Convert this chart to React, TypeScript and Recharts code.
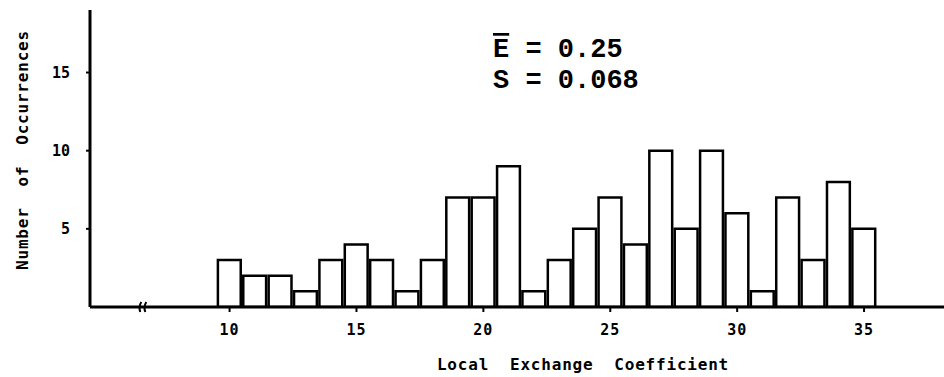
import { BarChart, Bar, XAxis, YAxis, ReferenceDot, Customized } from 'recharts';

// histogram bins (coefficient x 100) and counts per bin
const coefficient = [
  10, 11, 12, 13, 14, 15, 16, 17, 18, 19, 20, 21, 22,
  23, 24, 25, 26, 27, 28, 29, 30, 31, 32, 33, 34, 35,
];
const occurrences = [
  3, 2, 2, 1, 3, 4, 3, 1, 3, 7, 7, 9, 1,
  3, 5, 7, 4, 10, 5, 10, 6, 1, 7, 3, 8, 5,
];
const xTicks = [10, 15, 20, 25, 30, 35];
const yTicks = [5, 10, 15];
const meanValue = '0.25';
const sdValue = '0.068';
const breakAt = 6.6;

const data = coefficient.map((c, i) => ({ coefficient: c, count: occurrences[i] }));

const WIDTH = 944;
const HEIGHT = 377;
const margin = { top: 10, right: 0, bottom: 30, left: 30 };
const Y_AXIS_WIDTH = 60;
const X_AXIS_HEIGHT = 40;
const X_DOMAIN: [number, number] = [4.5, 38.15];
const plotWidth = WIDTH - margin.left - Y_AXIS_WIDTH - margin.right;
const binWidth = plotWidth / (X_DOMAIN[1] - X_DOMAIN[0]);

// typewriter-ish lettering for axis text
const labelFont = {
  fontFamily: '"DejaVu Sans Mono", monospace',
  fontWeight: 700,
  fill: '#000',
  letterSpacing: 0.8,
};

// little "//" squiggle on the x axis where the scale is broken
const BreakMark = (props: any) => {
  const { cx, cy } = props;
  return (
    <g stroke="#000" strokeWidth={2} fill="none">
      <path d={`M${cx - 3},${cy + 5} q-2,-5 1,-10`} />
      <path d={`M${cx + 2},${cy + 5} q-2,-5 1,-10`} />
    </g>
  );
};

const Annotations = () => (
  <g>
    <text x={493} y={57} fontFamily='"Liberation Mono", monospace' fontSize={27} fontWeight={700} fill="#000">
      <tspan textDecoration="overline">E</tspan> = {meanValue}
    </text>
    <text x={493} y={88} fontFamily='"Liberation Mono", monospace' fontSize={27} fontWeight={700} fill="#000">
      S = {sdValue}
    </text>
    <text
      x={22}
      y={150}
      transform="rotate(-90 22 150)"
      textAnchor="middle"
      dominantBaseline="central"
      fontSize={16}
      xmlSpace="preserve"
      style={{ whiteSpace: 'pre' }}
      {...labelFont}
    >
      {'Number  of  Occurrences'}
    </text>
    <text
      x={583}
      y={370}
      textAnchor="middle"
      fontSize={16}
      xmlSpace="preserve"
      style={{ whiteSpace: 'pre' }}
      {...labelFont}
    >
      {'Local  Exchange  Coefficient'}
    </text>
  </g>
);

export default function App() {
  return (
    <div style={{ width: WIDTH, height: HEIGHT, background: '#fff' }}>
      <style>{'body{margin:0}'}</style>
      <BarChart width={WIDTH} height={HEIGHT} data={data} margin={margin} barCategoryGap={0} barGap={0}>
        <XAxis
          dataKey="coefficient"
          type="number"
          domain={X_DOMAIN}
          ticks={xTicks}
          allowDataOverflow
          height={X_AXIS_HEIGHT}
          axisLine={{ stroke: '#000', strokeWidth: 3 }}
          tickLine={{ stroke: '#000', strokeWidth: 2 }}
          tickSize={5}
          tickMargin={12}
          tick={{ fontSize: 15, ...labelFont, letterSpacing: 1 }}
        />
        <YAxis
          type="number"
          domain={[0, 19]}
          ticks={yTicks}
          allowDataOverflow
          width={Y_AXIS_WIDTH}
          axisLine={{ stroke: '#000', strokeWidth: 3 }}
          tickLine={{ stroke: '#000', strokeWidth: 2 }}
          tickSize={4}
          tickMargin={16}
          tick={{ fontSize: 15, ...labelFont, letterSpacing: 0 }}
        />
        <Bar
          dataKey="count"
          fill="#fff"
          stroke="#000"
          strokeWidth={2.5}
          barSize={binWidth}
          isAnimationActive={false}
        />
        <ReferenceDot x={breakAt} y={0} r={0} shape={BreakMark} ifOverflow="visible" />
        <Customized component={Annotations} />
      </BarChart>
    </div>
  );
}
